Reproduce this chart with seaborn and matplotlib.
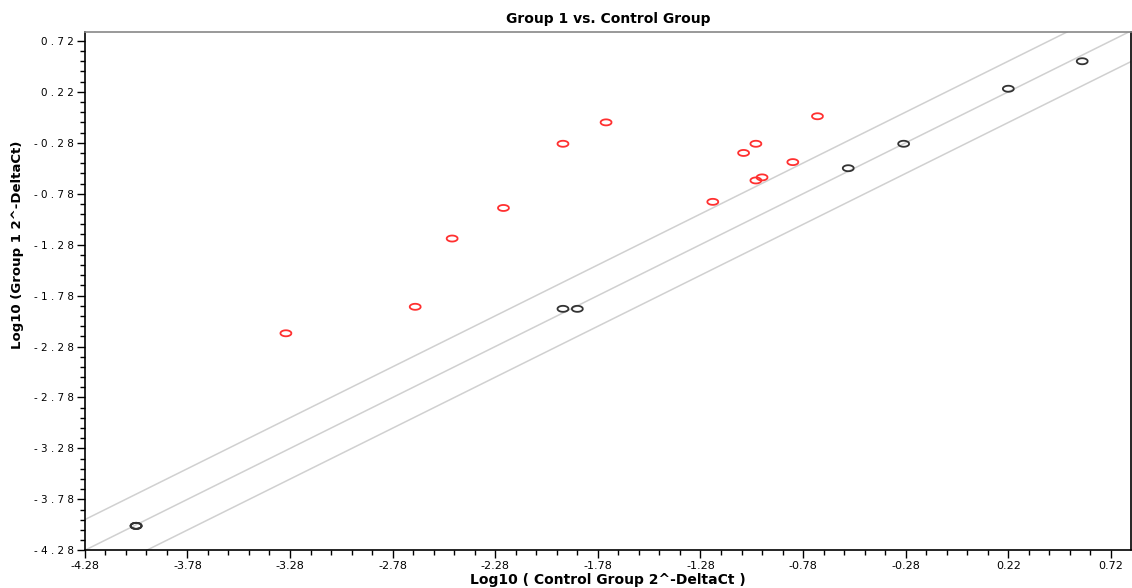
import numpy as np
import pandas as pd
import seaborn as sns
import matplotlib.pyplot as plt
from matplotlib.path import Path
from matplotlib.ticker import FixedLocator

# control group (x) and group 1 (y), log10 2^-DeltaCt
control_black = [-4.03, -4.03, -4.03, -1.95, -1.88, -0.56, -0.29, 0.22, 0.58]
group1_black = [-4.04, -4.04, -4.04, -1.91, -1.91, -0.53, -0.29, 0.25, 0.52]

control_red = [-3.30, -2.67, -2.49, -2.24, -1.95, -1.74, -1.22, -1.07, -1.01, -1.01, -0.98, -0.83, -0.71]
group1_red = [-2.15, -1.89, -1.22, -0.92, -0.29, -0.08, -0.86, -0.38, -0.29, -0.65, -0.62, -0.47, -0.02]

fold_threshold = np.log10(2)
tick_values = [-4.28, -3.78, -3.28, -2.78, -2.28, -1.78, -1.28, -0.78, -0.28, 0.22, 0.72]

df = pd.DataFrame({
    "control": control_black + control_red,
    "group1": group1_black + group1_red,
    "status": ["within"] * len(control_black) + ["up"] * len(control_red),
})
colors = {"within": "#333333", "up": "#ff3030"}

sns.set_style("white")
plt.rcParams['font.family'] = ['DejaVu Sans']
plt.rcParams['text.color'] = 'black'
plt.rcParams['axes.labelcolor'] = 'black'

# horizontally stretched open circle like the original
t = np.linspace(0, 2 * np.pi, 60)
ellipse = Path(np.column_stack([np.cos(t), 0.55 * np.sin(t)]))

fig = plt.figure(figsize=(11.32, 5.88), dpi=100)
ax = fig.add_axes([0.0749, 0.0641, 0.9241, 0.8820])

for c in [fold_threshold, 0, -fold_threshold]:
    ax.axline((0, c), slope=1, color="#d0d0d0", lw=1.1, zorder=1)

sns.scatterplot(data=df, x="control", y="group1", hue="status", palette=colors,
                marker=ellipse, s=62, linewidth=1.3, legend=False, ax=ax, zorder=3)
for coll in ax.collections:
    coll.set_facecolor("none")
    coll.set_edgecolor([colors[s] for s in df["status"]])

ax.set_xlim(-4.28, 0.817)
ax.set_ylim(-4.28, 0.81)
ax.xaxis.set_major_locator(FixedLocator(tick_values))
ax.yaxis.set_major_locator(FixedLocator(tick_values))
ax.xaxis.set_minor_locator(FixedLocator(np.arange(-4.28, 0.82, 0.1)))
ax.yaxis.set_minor_locator(FixedLocator(np.arange(-4.28, 0.82, 0.1)))
ax.set_xticklabels([f"{v:.2f}" for v in tick_values], fontsize=8, color="black")
ax.set_yticklabels([" ".join(f"{v:.2f}") for v in tick_values], fontsize=7.5, color="black")
ax.tick_params(which="major", direction="out", length=6, width=1, color="black", pad=2)
ax.tick_params(which="minor", direction="out", length=3.5, width=1, color="black")
ax.tick_params(axis="x", which="both", bottom=True)
ax.tick_params(axis="y", which="both", left=True)

for side in ["left", "bottom", "right"]:
    ax.spines[side].set_color("black")
    ax.spines[side].set_linewidth(1.2)
ax.spines["top"].set_color("#888888")
ax.spines["top"].set_linewidth(1.2)

ax.set_xlabel("Log10 ( Control Group 2^-DeltaCt )", fontsize=10, fontweight="bold", labelpad=1)
ax.set_ylabel("Log10 (Group 1 2^-DeltaCt)", fontsize=9.5, fontweight="bold",
              family=["Liberation Sans Narrow", "DejaVu Sans"])
ax.yaxis.set_label_coords(-0.058, 0.59)
ax.set_title("Group 1 vs. Control Group", fontsize=10, fontweight="bold", pad=6)

fig.savefig("out.png", dpi=100)
